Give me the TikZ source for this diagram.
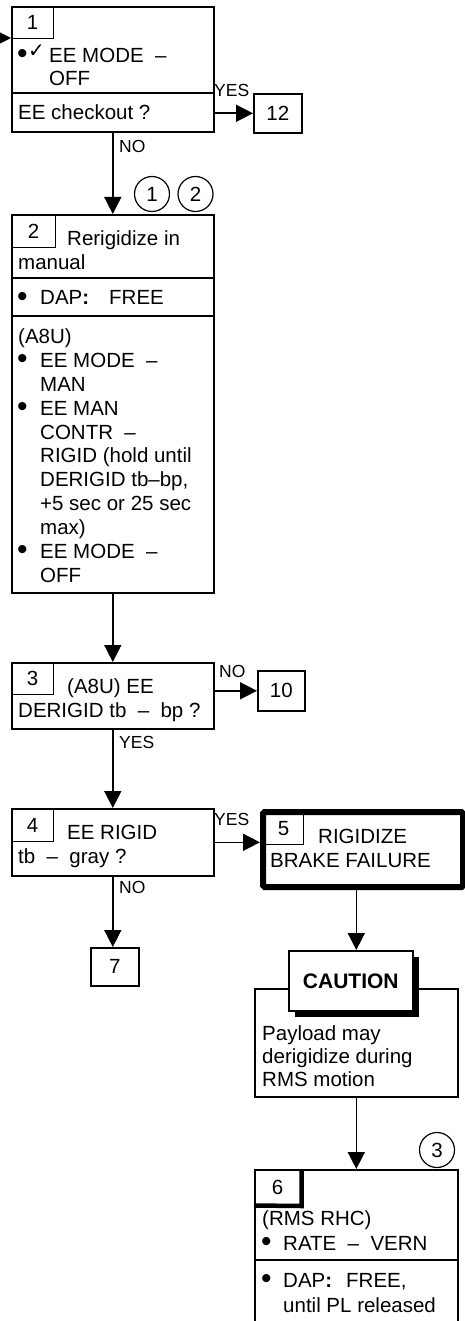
\documentclass[tikz,border=0pt]{standalone}
\usepackage{fontspec}
\setmainfont{Liberation Sans}
\newfontfamily\djv{DejaVu Sans}
\usetikzlibrary{arrows.meta,shadows}
\newcommand{\fs}{\fontsize{20.5}{24}\selectfont}
\newcommand{\fsl}{\fontsize{17.5}{19}\selectfont}
\newcommand{\bul}{{\fontsize{30}{30}\selectfont •}}
\begin{document}
\begin{tikzpicture}[x=1pt,y=-1pt,
  bx/.style={draw,line width=1.6pt,anchor=north west,inner sep=0pt,fill=white},
  tab/.style={draw,line width=1.2pt,anchor=north west,inner sep=0pt,font=\fs},
  tx/.style={anchor=base west,inner sep=0pt,font=\fs},
  bt/.style={anchor=base west,inner sep=0pt,font=\fs,xshift=-1pt,yshift=-1pt},
  lbl/.style={anchor=base west,inner sep=0pt,font=\fsl},
  circ/.style={draw,circle,line width=1.2pt,minimum size=35pt,inner sep=0pt,font=\fs},
  arr/.style={line width=1.6pt,-{Triangle[length=17pt,width=17pt]}},
  div/.style={line width=1.6pt}]
\useasboundingbox (0,0) rectangle (464,1321);

% ---------- Box 1
\node[bx,minimum width=202pt,minimum height=125pt] (b1) at (11,6) {};
\node[tab,minimum width=42pt,minimum height=32pt] (t1) at (11,6) {1};
\draw[div] (b1.west |- 0,93) -- (b1.east |- 0,93);
\node[bt] (b1a) at (18,63) {\bul};
\node[tx] (b1b) at (28,58) {\djv\fontsize{20}{20}\selectfont ✓};
\node[tx] (b1c) at (49,63) {EE MODE\ \ –};
\node[tx] (b1d) at (49,86) {OFF};
\node[tx] (b1e) at (18,120) {EE checkout ?};
\node[bx,minimum width=48pt,minimum height=39pt,font=\fs] (b12) at (253,93) {12};
\node[lbl] (y1) at (214,97) {YES};
\node[lbl] (n1) at (119,153) {NO};
\coordinate (in) at (-3,38);
\draw[arr] (in) -- (in -| b1.west);
\draw[arr] (b1.east |- b12.west) -- (b12.west);

\node[circ] (c1) at (152,194) {1};
\node[circ] (c2) at (195.5,194) {2};

% ---------- Box 2
\node[bx,minimum width=202pt,minimum height=378pt] (b2) at (11,214) {};
\node[tab,minimum width=44pt,minimum height=33pt] (t2) at (11,214) {2};
\draw[div] (b2.west |- 0,278) -- (b2.east |- 0,278);
\draw[div] (b2.west |- 0,316) -- (b2.east |- 0,316);
\node[tx] (b2a) at (67,246) {Rerigidize in};
\node[tx] (b2b) at (18,270) {manual};
\node[bt] (b2c) at (18,305) {\bul};
\node[tx] (b2d) at (40,305) {DAP\textbf{:}\hspace{20pt}FREE};
\node[tx] (b2e) at (18,343) {(A8U)};
\node[bt] (b2f) at (18,367) {\bul};
\node[tx] (b2g) at (40,367) {EE MODE\ \ –};
\node[tx] (b2h) at (40,391) {MAN};
\node[bt] (b2i) at (18,415) {\bul};
\node[tx] (b2j) at (40,415) {EE MAN};
\node[tx] (b2k) at (40,439) {CONTR\ \ –};
\node[tx] (b2l) at (40,462) {RIGID (hold until};
\node[tx] (b2m) at (40,486) {DERIGID tb–bp,};
\node[tx] (b2n) at (40,510) {+5 sec or 25 sec};
\node[tx] (b2o) at (40,534) {max)};
\node[bt] (b2p) at (18,558) {\bul};
\node[tx] (b2q) at (40,558) {EE MODE\ \ –};
\node[tx] (b2r) at (40,582) {OFF};
\draw[arr] (b1.south) -- (b2.north);

% ---------- Box 3
\node[bx,minimum width=202pt,minimum height=66pt] (b3) at (11,662) {};
\node[tab,minimum width=42pt,minimum height=32pt] (t3) at (11,662) {3};
\node[tx] (b3a) at (67,693) {(A8U) EE};
\node[tx] (b3b) at (18,717) {DERIGID tb\ \ –\ \ bp ?};
\node[bx,minimum width=47pt,minimum height=40pt,font=\fs] (b10) at (257,670) {10};
\node[lbl] (n3) at (219,677) {NO};
\node[lbl] (y3) at (119,748) {YES};
\draw[arr] (b2.south) -- (b3.north);
\draw[arr] (b3.east |- b10.west) -- (b10.west);

% ---------- Box 4
\node[bx,minimum width=202pt,minimum height=67pt] (b4) at (11,808) {};
\node[tab,minimum width=42pt,minimum height=33pt] (t4) at (11,808) {4};
\node[tx] (b4a) at (67,839) {EE RIGID};
\node[tx] (b4b) at (18,863) {tb\ \ –\ \ gray ?};
\node[lbl] (y4) at (214,825) {YES};
\node[lbl] (n4) at (119,893) {NO};
\node[bx,minimum width=48pt,minimum height=38pt,font=\fs] (b7) at (90,947) {7};
\draw[arr] (b3.south) -- (b4.north);
\draw[arr] (b4.south) -- (b4.south |- b7.north);

% ---------- Box 5
\node[bx,line width=6pt,rounded corners=1.5pt,minimum width=200pt,minimum height=75pt] (b5) at (260,809) {};
\node[tab,minimum width=40pt,minimum height=32pt] (t5) at (263,812) {5};
\node[tx] (b5a) at (318,843) {RIGIDIZE};
\node[tx] (b5b) at (270,867) {BRAKE FAILURE};
\draw[arr] (b4.east) -- (b4.east -| b5.west);

% ---------- Caution
\node[bx,minimum width=203pt,minimum height=108pt] (cw) at (254,988) {};
\node[bx,minimum width=124pt,minimum height=60pt,font=\fontsize{21}{24}\selectfont\bfseries,
  drop shadow={shadow xshift=6pt,shadow yshift=-6pt,fill=black,opacity=1}] (ct) at (288,950) {CAUTION};
\node[tx] (cwa) at (262,1040) {Payload may};
\node[tx] (cwb) at (262,1063) {derigidize during};
\node[tx] (cwc) at (262,1086) {RMS motion};
\draw[arr] (b5.south -| cw.north) -- (cw.north |- ct.north);

% ---------- Box 6
\node[circ] (c3) at (437,1150) {3};
\node[bx,minimum width=203pt,minimum height=175pt] (b6) at (254,1169) {};
\node[tab,minimum width=46pt,minimum height=35pt] (t6) at (254,1169) {6};
\draw[line width=4.5pt] (t6.north east) ++(0.5,0) -- ++(0,37) -- (t6.south west |- 0,1205.5);
\draw[div] (b6.west |- 0,1260) -- (b6.east |- 0,1260);
\node[tx] (b6a) at (262,1225) {(RMS RHC)};
\node[bt] (b6b) at (262,1250) {\bul};
\node[tx] (b6c) at (283,1250) {RATE\ \ –\ \ VERN};
\node[bt] (b6d) at (262,1287) {\bul};
\node[tx] (b6e) at (283,1287) {DAP\textbf{:}\hspace{14pt}FREE,};
\node[tx] (b6f) at (283,1312) {until PL released};
\draw[arr] (cw.south) -- (b6.north);
\end{tikzpicture}
\end{document}
